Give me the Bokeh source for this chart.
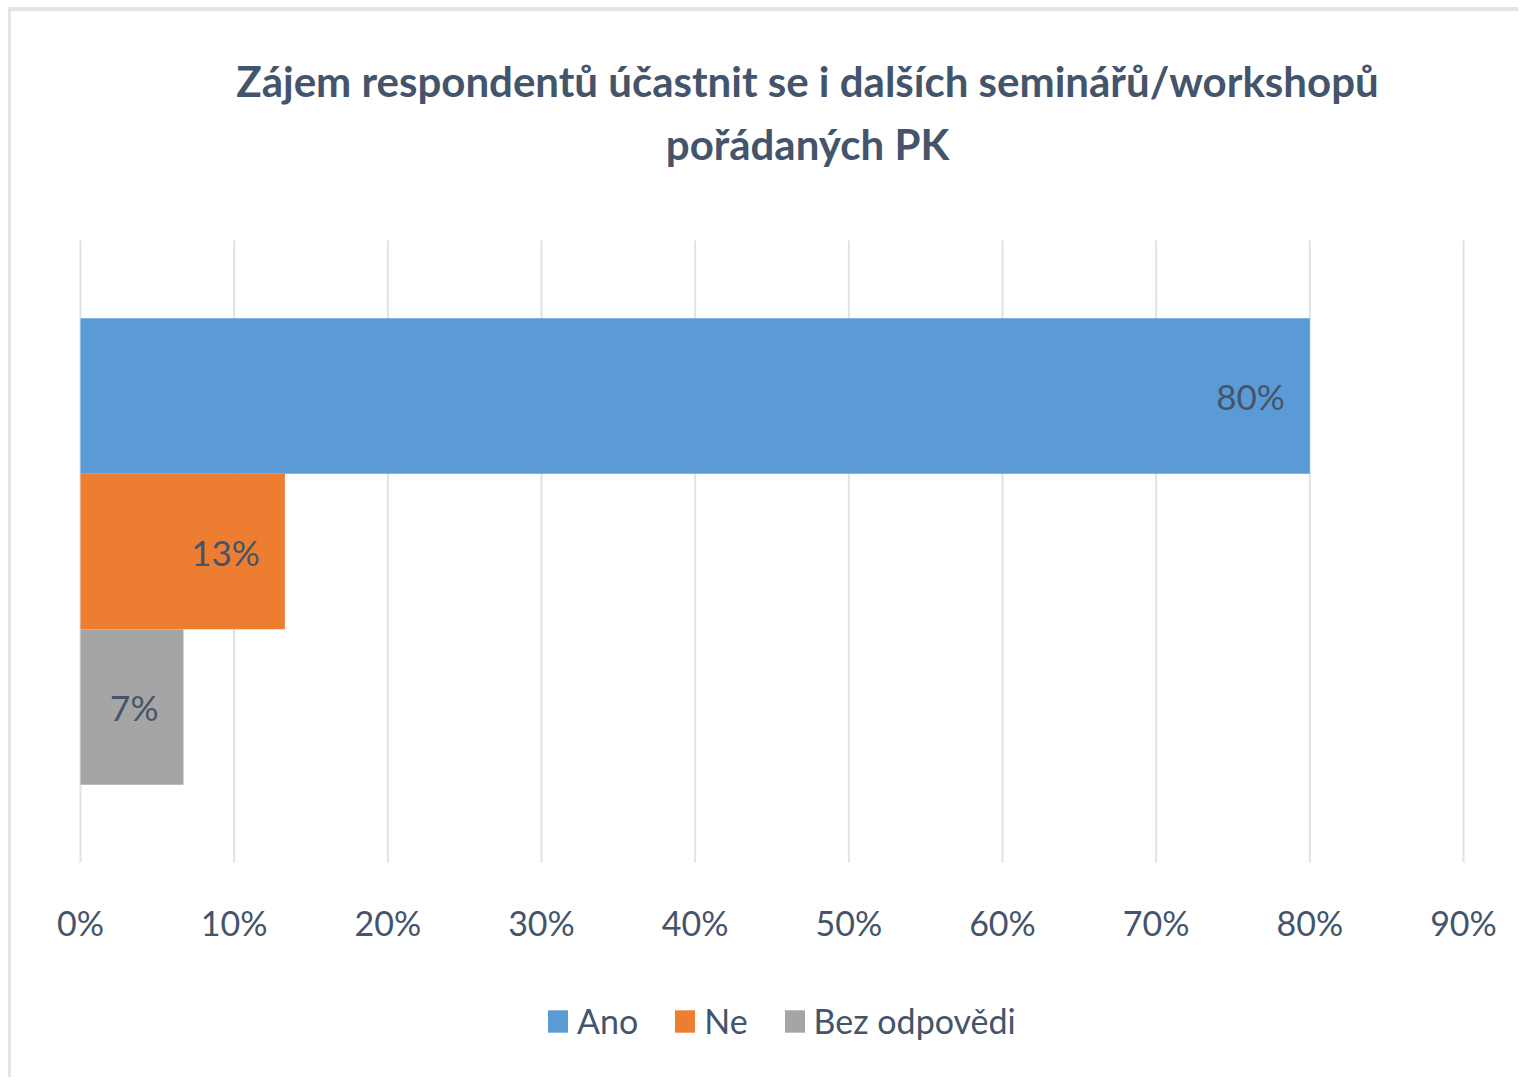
from bokeh.plotting import figure
from bokeh.models import (ColumnDataSource, Range1d, LabelSet, Label, Legend, LegendItem)
from bokeh.core.properties import value
from bokeh.embed import file_html
from bokeh.resources import INLINE

# ---- data ----
series = ["Ano", "Ne", "Bez odpovědi"]
values = [80.0, 13.3, 6.7]
colors = ["#5B9BD5", "#ED7D31", "#A5A5A5"]
ticks = [0, 10, 20, 30, 40, 50, 60, 70, 80, 90]
tick_labels = ["0%", "10%", "20%", "30%", "40%", "50%", "60%", "70%", "80%", "90%"]
title_lines = ["Zájem respondentů účastnit se i dalších seminářů/workshopů",
               "pořádaných PK"]

FONT = "Lato"
TXT = "#44546A"
GRID = "#DDE3EA"

# ---- layout (pixels inside the figure canvas) ----
W, H = 1510, 1070
PLOT_L, PLOT_R = 69, 1452      # x of 0% and 90%
PLOT_T, PLOT_B = 229, 851      # top / bottom of the category band
n = len(series)
unit_x = (PLOT_R - PLOT_L) / (ticks[-1] - ticks[0])
unit_y = (PLOT_B - PLOT_T) / (n + 1)
x_range = Range1d(ticks[0] - PLOT_L / unit_x, ticks[-1] + (W - PLOT_R) / unit_x)
y_range = Range1d(-(H - PLOT_B) / unit_y, (n + 1) + PLOT_T / unit_y)

p = figure(width=W, height=H, output_backend="svg", toolbar_location=None,
           x_range=x_range, y_range=y_range, min_border=0)
p.styles = {"margin-left": "8px", "margin-top": "7px",
            "border-top": "4px solid #E1E5EB", "border-left": "3px solid #E1E5EB"}
p.outline_line_color = None
p.background_fill_color = "white"
p.border_fill_color = "white"
p.xaxis.visible = False
p.yaxis.visible = False
p.xgrid.grid_line_color = None
p.ygrid.grid_line_color = None

# vertical gridlines over the category band
p.segment(x0=ticks, x1=ticks, y0=[0] * len(ticks), y1=[n + 1] * len(ticks),
          line_color=GRID, line_width=2)

# tick labels of the value axis
tick_src = ColumnDataSource(dict(x=ticks, t=tick_labels))
p.add_layout(LabelSet(x="x", y=H - 935 + 11, y_units="screen", text="t", source=tick_src,
                      text_align="center", text_baseline="alphabetic",
                      text_font=value(FONT), text_font_size="34px", text_color=TXT))

items = []
for i, (s, v, c) in enumerate(zip(series, values, colors)):
    src = ColumnDataSource(dict(y=[n - i], right=[v], txt=[f"{round(v)}%"]))
    r = p.hbar(y="y", left=0, right="right", height=1.0, source=src,
               fill_color=c, line_color=None)
    items.append(LegendItem(label=s, renderers=[r]))
    p.add_layout(LabelSet(x="right", y="y", text="txt", source=src,
                          x_offset=-25, text_align="right", text_baseline="middle",
                          text_font=value(FONT), text_font_size="35px", text_color=TXT))

legend = Legend(items=items, orientation="horizontal", location=(534, 40),
                padding=0, margin=0, spacing=34, label_standoff=7,
                glyph_width=25, glyph_height=28,
                label_text_font=FONT, label_text_font_size="34px",
                label_text_color=TXT, border_line_color=None,
                background_fill_alpha=0)
p.add_layout(legend, "center")

for line, yb in zip(title_lines, [80, 143]):
    p.add_layout(Label(x=807 - 11, y=H - yb + 11, x_units="screen", y_units="screen",
                       text=line, text_align="center", text_baseline="alphabetic",
                       text_font=FONT, text_font_style="bold",
                       text_font_size="42px", text_color=TXT))

open("out.html", "w").write(file_html(p, INLINE))
